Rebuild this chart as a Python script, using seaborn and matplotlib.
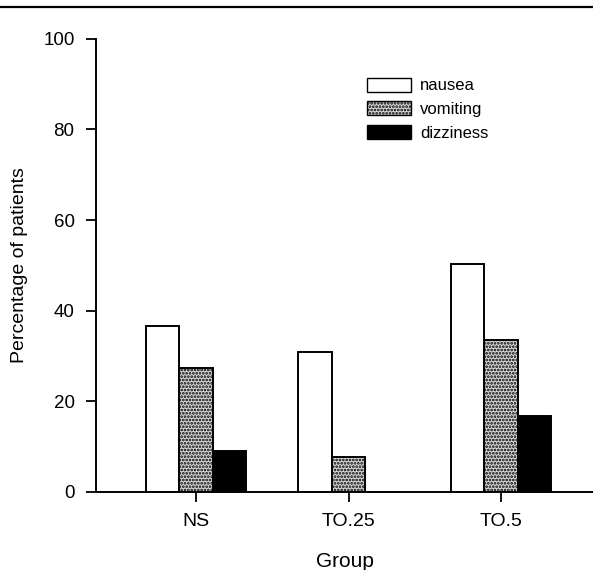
import pandas as pd
import matplotlib
matplotlib.use("Agg")
import matplotlib.pyplot as plt
from matplotlib.patches import Patch
from matplotlib.lines import Line2D
import seaborn as sns

# ---- data ----
groups = ["NS", "TO.25", "TO.5"]
symptoms = ["nausea", "vomiting", "dizziness"]
nausea = [36.6, 30.9, 50.3]
vomiting = [27.4, 7.7, 33.6]
dizziness = [9.0, 0.0, 16.8]

df = pd.DataFrame({
    "Group": groups * 3,
    "symptom": ["nausea"] * 3 + ["vomiting"] * 3 + ["dizziness"] * 3,
    "pct": nausea + vomiting + dizziness,
})

sns.set_style("ticks")
plt.rcParams["font.family"] = ["Liberation Sans", "DejaVu Sans"]
plt.rcParams["hatch.linewidth"] = 1.3
for k in ["text.color", "axes.labelcolor", "xtick.color", "ytick.color"]:
    plt.rcParams[k] = "black"

fig = plt.figure(figsize=(5.93, 5.70), dpi=100)
ax = fig.add_axes([0.162, 0.137, 0.838, 0.795])

colors = {"nausea": "white", "vomiting": "#d6d6d6", "dizziness": "black"}
sns.barplot(data=df, x="Group", y="pct", hue="symptom", hue_order=symptoms,
            order=groups, palette=colors, edgecolor="black", linewidth=1.4,
            width=0.66, gap=0, saturation=1, legend=False, ax=ax)

# speckled fill for vomiting
for bar in ax.containers[1]:
    bar.set_hatch(".....")

ax.set_ylim(0, 100)
ax.set_yticks([0, 20, 40, 60, 80, 100])
ax.set_xlim(-0.656, 2.603)
ax.set_xlabel("Group", fontsize=15, labelpad=16)
ax.set_ylabel("Percentage of patients", fontsize=14, labelpad=11)
ax.tick_params(axis="both", width=1.3, length=7)
ax.tick_params(axis="y", labelsize=13.5, pad=8.5)
ax.tick_params(axis="x", labelsize=14, pad=8)
sns.despine(ax=ax)
for sp in ["left", "bottom"]:
    ax.spines[sp].set_linewidth(1.4)
    ax.spines[sp].set_color("black")

handles = [
    Patch(facecolor="white", edgecolor="black", label="nausea"),
    Patch(facecolor="#d6d6d6", edgecolor="black", hatch=".....", label="vomiting"),
    Patch(facecolor="black", edgecolor="black", label="dizziness"),
]
ax.legend(handles=handles, loc="upper left", bbox_to_anchor=(0.545, 0.914),
          frameon=False, fontsize=12, handlelength=2.64, handleheight=0.9,
          labelspacing=0.48, handletextpad=0.55, borderaxespad=0, borderpad=0)

# page rule at the top
fig.add_artist(Line2D([0, 1], [0.987, 0.987], color="black", linewidth=1.6,
                      transform=fig.transFigure))

fig.savefig("out.png", dpi=100)
